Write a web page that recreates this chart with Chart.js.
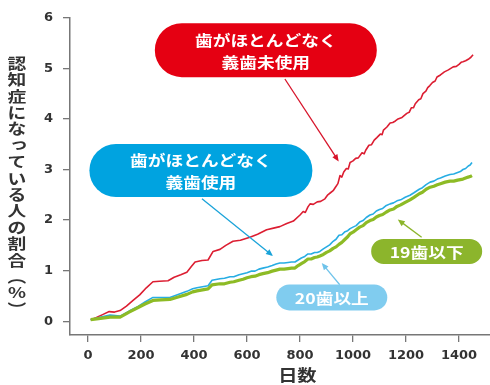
<!DOCTYPE html>
<html lang="ja">
<head>
<meta charset="utf-8">
<title>認知症になっている人の割合</title>
<script src="https://cdn.jsdelivr.net/npm/chart.js@4.4.1/dist/chart.umd.min.js"></script>
<style>
  html, body { margin: 0; padding: 0; background: #ffffff; }
  #wrap { width: 490px; height: 385px; }
</style>
</head>
<body>
<div id="wrap"><canvas id="chart" width="490" height="385"></canvas></div>
<script>
// 経過日数と認知症になっている人の割合（%）
const noDentureDays = [10, 30, 55, 80, 100, 121, 145, 170, 195, 220, 245, 270, 302, 325, 350, 373, 390, 404, 430, 453, 472, 498, 520, 547, 575, 611, 640, 674, 700, 724, 750, 775, 800, 812, 820, 830, 838, 850, 865, 878, 894, 905, 915, 925, 935, 943, 951, 958, 965, 975, 982, 989, 1000, 1010, 1020, 1034, 1042, 1048, 1060, 1070, 1080, 1090, 1103, 1110, 1115, 1128, 1140, 1150, 1160, 1170, 1185, 1203, 1212, 1220, 1228, 1235, 1248, 1256, 1264, 1275, 1282, 1290, 1300, 1310, 1317, 1330, 1345, 1360, 1378, 1390, 1400, 1408, 1415, 1425, 1435, 1445, 1453];
const noDenturePct  = [0.03, 0.07, 0.13, 0.19, 0.18, 0.21, 0.30, 0.41, 0.52, 0.66, 0.78, 0.79, 0.80, 0.87, 0.92, 0.97, 1.08, 1.17, 1.20, 1.21, 1.38, 1.42, 1.50, 1.58, 1.60, 1.66, 1.72, 1.81, 1.84, 1.87, 1.93, 1.98, 2.10, 2.17, 2.15, 2.26, 2.32, 2.31, 2.36, 2.37, 2.42, 2.50, 2.54, 2.58, 2.66, 2.72, 2.88, 2.85, 2.95, 3.02, 3.01, 3.14, 3.17, 3.22, 3.23, 3.33, 3.31, 3.38, 3.48, 3.49, 3.58, 3.63, 3.70, 3.69, 3.78, 3.84, 3.92, 3.93, 3.96, 4.00, 4.03, 4.11, 4.13, 4.22, 4.22, 4.30, 4.38, 4.40, 4.50, 4.55, 4.62, 4.66, 4.72, 4.75, 4.83, 4.87, 4.93, 4.97, 5.03, 5.04, 5.08, 5.12, 5.13, 5.15, 5.18, 5.22, 5.27];

const dentureDays = [10, 40, 83, 121, 155, 189, 215, 245, 275, 309, 340, 373, 395, 411, 453, 468, 498, 515, 536, 550, 570, 585, 600, 615, 630, 645, 660, 678, 695, 710, 724, 740, 755, 768, 781, 793, 805, 818, 830, 842, 855, 865, 875, 888, 900, 912, 925, 936, 947, 958, 970, 980, 989, 1000, 1012, 1025, 1038, 1050, 1064, 1076, 1088, 1100, 1112, 1126, 1140, 1153, 1166, 1180, 1197, 1215, 1230, 1250, 1262, 1276, 1291, 1305, 1318, 1330, 1348, 1366, 1380, 1395, 1405, 1415, 1425, 1435, 1442, 1449];
const denturePct  = [0.03, 0.07, 0.12, 0.10, 0.20, 0.29, 0.38, 0.47, 0.47, 0.47, 0.53, 0.59, 0.64, 0.66, 0.70, 0.81, 0.84, 0.85, 0.88, 0.88, 0.92, 0.94, 0.96, 0.99, 0.99, 1.03, 1.05, 1.07, 1.10, 1.13, 1.15, 1.15, 1.16, 1.17, 1.17, 1.21, 1.25, 1.28, 1.33, 1.33, 1.36, 1.36, 1.38, 1.43, 1.47, 1.51, 1.58, 1.62, 1.70, 1.71, 1.77, 1.79, 1.83, 1.86, 1.89, 1.96, 1.99, 2.05, 2.10, 2.12, 2.18, 2.21, 2.23, 2.29, 2.32, 2.34, 2.38, 2.40, 2.45, 2.49, 2.54, 2.61, 2.64, 2.70, 2.75, 2.77, 2.81, 2.83, 2.87, 2.90, 2.91, 2.94, 2.96, 3.00, 3.02, 3.07, 3.09, 3.14];

const under19Days = [10, 40, 83, 121, 155, 189, 215, 245, 275, 309, 340, 373, 395, 411, 453, 468, 498, 515, 536, 550, 570, 585, 600, 615, 630, 645, 660, 678, 695, 710, 724, 740, 755, 768, 781, 793, 805, 818, 830, 842, 855, 865, 875, 888, 900, 912, 925, 936, 947, 958, 970, 980, 989, 1000, 1012, 1025, 1038, 1050, 1064, 1076, 1088, 1100, 1112, 1126, 1140, 1153, 1166, 1180, 1197, 1215, 1230, 1250, 1262, 1276, 1291, 1305, 1318, 1330, 1348, 1366, 1380, 1395, 1405, 1415, 1425, 1435, 1442, 1449];
const under19Pct  = [0.03, 0.05, 0.08, 0.08, 0.18, 0.27, 0.34, 0.41, 0.42, 0.43, 0.48, 0.53, 0.58, 0.60, 0.64, 0.72, 0.74, 0.74, 0.77, 0.78, 0.81, 0.83, 0.86, 0.88, 0.89, 0.92, 0.94, 0.96, 0.99, 1.01, 1.03, 1.03, 1.04, 1.05, 1.05, 1.10, 1.14, 1.18, 1.23, 1.23, 1.26, 1.27, 1.29, 1.32, 1.36, 1.39, 1.44, 1.47, 1.52, 1.56, 1.62, 1.67, 1.73, 1.76, 1.81, 1.86, 1.89, 1.95, 1.99, 2.01, 2.06, 2.09, 2.11, 2.16, 2.20, 2.22, 2.27, 2.30, 2.35, 2.40, 2.45, 2.52, 2.55, 2.61, 2.65, 2.67, 2.70, 2.72, 2.75, 2.77, 2.77, 2.79, 2.80, 2.81, 2.83, 2.85, 2.86, 2.88];

const xTickValues = [0, 200, 400, 600, 800, 1000, 1200, 1400];
const yTickValues = [0, 1, 2, 3, 4, 5, 6];

const xTitle = '日数';
const yTitle = '認知症になっている人の割合（%）';

const pairs = (xs, ys) => xs.map((x, i) => ({ x, y: ys[i] }));

// 吹き出し（位置はデータ座標）
const callouts = [
  { lines: ['歯がほとんどなく', '義歯未使用'], fill: '#e50012', at: [671, 5.36], w: 222, h: 54, from: [743, 4.79], to: [946, 3.16], arrow: '#d7142a' },
  { lines: ['歯がほとんどなく', '義歯使用'], fill: '#00a3e0', at: [426, 2.98], w: 223, h: 53, from: [430, 2.42], to: [698, 1.29], arrow: '#1aa3d9' },
  { lines: ['19歯以下'], fill: '#8cb52c', at: [1278, 1.38], w: 111, h: 25, from: [1259, 1.66], to: [1169, 2.01], arrow: '#8cb52c' },
  { lines: ['20歯以上'], fill: '#80ccef', at: [920, 0.47], w: 111, h: 26, from: [950, 0.72], to: [882, 1.15], arrow: '#6fc3ea' }
];

const CJK = '"Noto Sans CJK JP", "Noto Sans", sans-serif';

function stretchedText(ctx, text, cx, cy, font, sx, color) {
  ctx.save();
  ctx.translate(cx, cy);
  ctx.scale(sx, 1);
  ctx.font = font;
  ctx.fillStyle = color;
  ctx.textAlign = 'center';
  ctx.textBaseline = 'middle';
  ctx.fillText(text, 0, 0);
  ctx.restore();
}

function pill(ctx, cx, cy, w, h, color) {
  const r = h / 2, x0 = cx - w / 2, x1 = cx + w / 2;
  ctx.beginPath();
  ctx.moveTo(x0 + r, cy - r);
  ctx.lineTo(x1 - r, cy - r);
  ctx.arc(x1 - r, cy, r, -Math.PI / 2, Math.PI / 2);
  ctx.lineTo(x0 + r, cy + r);
  ctx.arc(x0 + r, cy, r, Math.PI / 2, Math.PI * 1.5);
  ctx.closePath();
  ctx.fillStyle = color;
  ctx.fill();
}

function arrow(ctx, x0, y0, x1, y1, color, width) {
  const ang = Math.atan2(y1 - y0, x1 - x0);
  const len = 7, half = 3;
  ctx.save();
  ctx.strokeStyle = color;
  ctx.fillStyle = color;
  ctx.lineWidth = width;
  ctx.beginPath();
  ctx.moveTo(x0, y0);
  ctx.lineTo(x1 - Math.cos(ang) * len * 0.8, y1 - Math.sin(ang) * len * 0.8);
  ctx.stroke();
  ctx.beginPath();
  ctx.moveTo(x1, y1);
  ctx.lineTo(x1 - Math.cos(ang) * len - Math.sin(ang) * half, y1 - Math.sin(ang) * len + Math.cos(ang) * half);
  ctx.lineTo(x1 - Math.cos(ang) * len + Math.sin(ang) * half, y1 - Math.sin(ang) * len - Math.cos(ang) * half);
  ctx.closePath();
  ctx.fill();
  ctx.restore();
}

const decorations = {
  id: 'decorations',
  afterDatasetsDraw(chart) {
    const { ctx, scales: { x, y } } = chart;
    callouts.forEach(c => {
      const cx = x.getPixelForValue(c.at[0]);
      const cy = y.getPixelForValue(c.at[1]);
      arrow(ctx, x.getPixelForValue(c.from[0]), y.getPixelForValue(c.from[1]),
                 x.getPixelForValue(c.to[0]), y.getPixelForValue(c.to[1]), c.arrow, 1.3);
      pill(ctx, cx, cy, c.w, c.h, c.fill);
      if (c.lines.length === 2) {
        stretchedText(ctx, c.lines[0], cx, cy - 10, 'bold 15px ' + CJK, 1.18, '#ffffff');
        stretchedText(ctx, c.lines[1], cx, cy + 12, 'bold 15px ' + CJK, 1.18, '#ffffff');
      } else {
        stretchedText(ctx, c.lines[0], cx, cy + 0.5, 'bold 15px ' + CJK, 1.18, '#ffffff');
      }
    });
  },
  afterDraw(chart) {
    const { ctx, scales: { x } } = chart;
    // 縦書きの軸タイトル
    const vertical = { '（': '︵', '）': '︶' };
    const chars = Array.from(yTitle);
    chars.forEach((ch, i) => {
      let dx = 0, dy = 0;
      if (ch === 'っ') { dx = 2; dy = -2; }
      stretchedText(ctx, vertical[ch] || ch, 17 + dx, 63 + i * 16.4 + dy, 'bold 15px ' + CJK, 1.25, '#333333');
    });
    // 横軸タイトル
    stretchedText(ctx, xTitle, x.getPixelForValue(790), 375, 'bold 16px ' + CJK, 1.2, '#333333');
  }
};

const tickFont = { family: '"DejaVu Sans", sans-serif', size: 13, weight: 'bold' };

new Chart(document.getElementById('chart'), {
  type: 'line',
  data: {
    datasets: [
      { label: '19歯以下', data: pairs(under19Days, under19Pct), borderColor: '#8dbb25', borderWidth: 3.2 },
      { label: '20歯以上', data: pairs(dentureDays, denturePct), borderColor: '#27ade3', borderWidth: 1.6 },
      { label: '歯がほとんどなく義歯未使用', data: pairs(noDentureDays, noDenturePct), borderColor: '#dc1e32', borderWidth: 1.6 }
    ]
  },
  options: {
    responsive: false,
    devicePixelRatio: 1,
    animation: false,
    layout: { padding: { top: 13, right: 0, bottom: 0, left: 0 } },
    elements: { point: { radius: 0 }, line: { tension: 0, fill: false, borderJoinStyle: 'round' } },
    plugins: { legend: { display: false }, tooltip: { enabled: false } },
    scales: {
      x: {
        type: 'linear',
        min: -68,
        max: 1517,
        afterBuildTicks: s => { s.ticks = xTickValues.map(v => ({ value: v })); },
        afterFit: s => { s.height = 50; },
        grid: { display: true, drawOnChartArea: false, drawTicks: true, tickLength: 7, color: '#777777', lineWidth: 1.3 },
        border: { display: true, color: '#777777', width: 1.5 },
        ticks: { color: '#333333', padding: 6, font: tickFont, maxRotation: 0, callback: v => String(v) }
      },
      y: {
        type: 'linear',
        min: -0.273,
        max: 6,
        afterBuildTicks: s => { s.ticks = yTickValues.map(v => ({ value: v })); },
        afterFit: s => { s.width = 70; },
        grid: { display: true, drawOnChartArea: false, drawTicks: true, tickLength: 7, color: '#777777', lineWidth: 1.3 },
        border: { display: true, color: '#777777', width: 1.5 },
        ticks: { color: '#333333', padding: 10, font: tickFont, callback: v => String(v) }
      }
    }
  },
  plugins: [decorations]
});
</script>
</body>
</html>
